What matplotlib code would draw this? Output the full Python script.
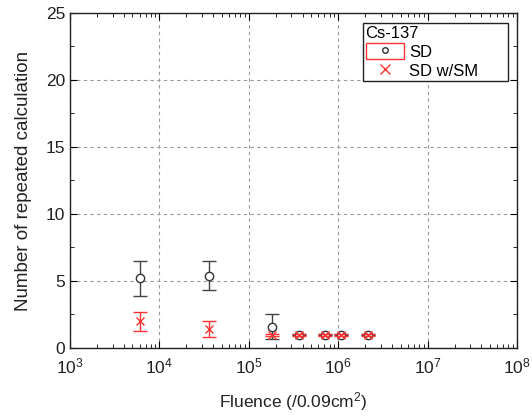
import numpy as np
import matplotlib.pyplot as plt
from matplotlib.lines import Line2D
from matplotlib.patches import Patch
from matplotlib.legend_handler import HandlerTuple

plt.rcParams['font.family'] = ['Liberation Sans', 'DejaVu Sans']
plt.rcParams['mathtext.default'] = 'regular'

# fluence points (/0.09cm2)
fluence = [6.0e3, 3.6e4, 1.8e5, 3.6e5, 7.2e5, 1.08e6, 2.16e6]
# repeated calculations, plain SD
sd_mean = [5.2, 5.4, 1.6, 1.0, 1.0, 1.0, 1.0]
sd_err = [1.3, 1.1, 0.9, 0.05, 0.05, 0.05, 0.05]
# repeated calculations, SD with SM
sdsm_mean = [2.0, 1.4, 1.0, 1.0, 1.0, 1.0, 1.0]
sdsm_err = [0.7, 0.58, 0.08, 0.08, 0.08, 0.08, 0.08]

fig = plt.figure(figsize=(5.32, 4.16), dpi=100)
ax = fig.add_axes([0.1316, 0.1635, 0.8402, 0.8053])

ax.errorbar(fluence, sd_mean, yerr=sd_err, fmt='o', mfc='white', mec='#333333',
            ms=6, mew=1.0, ecolor='#444444', elinewidth=1.0, capsize=5, capthick=1.0, zorder=3)
ax.errorbar(fluence, sdsm_mean, yerr=sdsm_err, fmt='x', color='#ff3333',
            ms=6, mew=1.0, ecolor='#ff3333', elinewidth=1.0, capsize=5, capthick=1.0, zorder=4)

ax.set_xscale('log')
ax.set_xlim(1e3, 1e8)
ax.set_ylim(0, 25)
ax.set_yticks([0, 5, 10, 15, 20, 25])
ax.set_yticks([2.5, 7.5, 12.5, 17.5, 22.5], minor=True)
ax.set_xticks([1e3, 1e4, 1e5, 1e6, 1e7, 1e8])
ax.set_xticklabels([r'10$^{%d}$' % e for e in range(3, 9)])
ax.tick_params(which='both', direction='in', top=True, right=True, labelsize=12.5,
               labelcolor='#222222')
ax.tick_params(which='major', length=5)
ax.tick_params(which='minor', length=3)
ax.tick_params(axis='x', pad=6)
ax.grid(True, which='major', linestyle=(0, (3, 3)), color='#999999', linewidth=0.8)
for s in ax.spines.values():
    s.set_linewidth(1.0)
    s.set_color('#222222')

ax.set_xlabel('Fluence (/0.09cm$^2$)', fontsize=12.5, labelpad=10, color='#222222')
ax.set_ylabel('Number of repeated calculation', fontsize=13.5, labelpad=10, color='#222222')

h_sd = (Patch(facecolor='none', edgecolor='#ff3333', linewidth=1.0),
        Line2D([], [], ls='none', marker='o', mfc='white', mec='#333333', ms=4))
h_sm = Line2D([], [], ls='none', marker='x', color='#ff3333', ms=7)
# legend box stretched to a fixed width in the upper right corner
leg = ax.legend([h_sd, h_sm], ['SD', 'SD w/SM'], title='Cs-137', loc='upper left',
                bbox_to_anchor=(0.6555, 0.797, 0.3244, 0.173), mode='expand',
                fontsize=12, title_fontsize=12,
                frameon=True, fancybox=False, edgecolor='#222222', framealpha=1,
                handler_map={tuple: HandlerTuple(ndivide=1)},
                handlelength=2.3, handleheight=1.1, borderpad=0.15, labelspacing=0.15,
                handletextpad=0.3, borderaxespad=0.0)
leg.get_frame().set_linewidth(1.0)
leg._legend_box.align = 'left'

fig.savefig('out.png', dpi=100)
